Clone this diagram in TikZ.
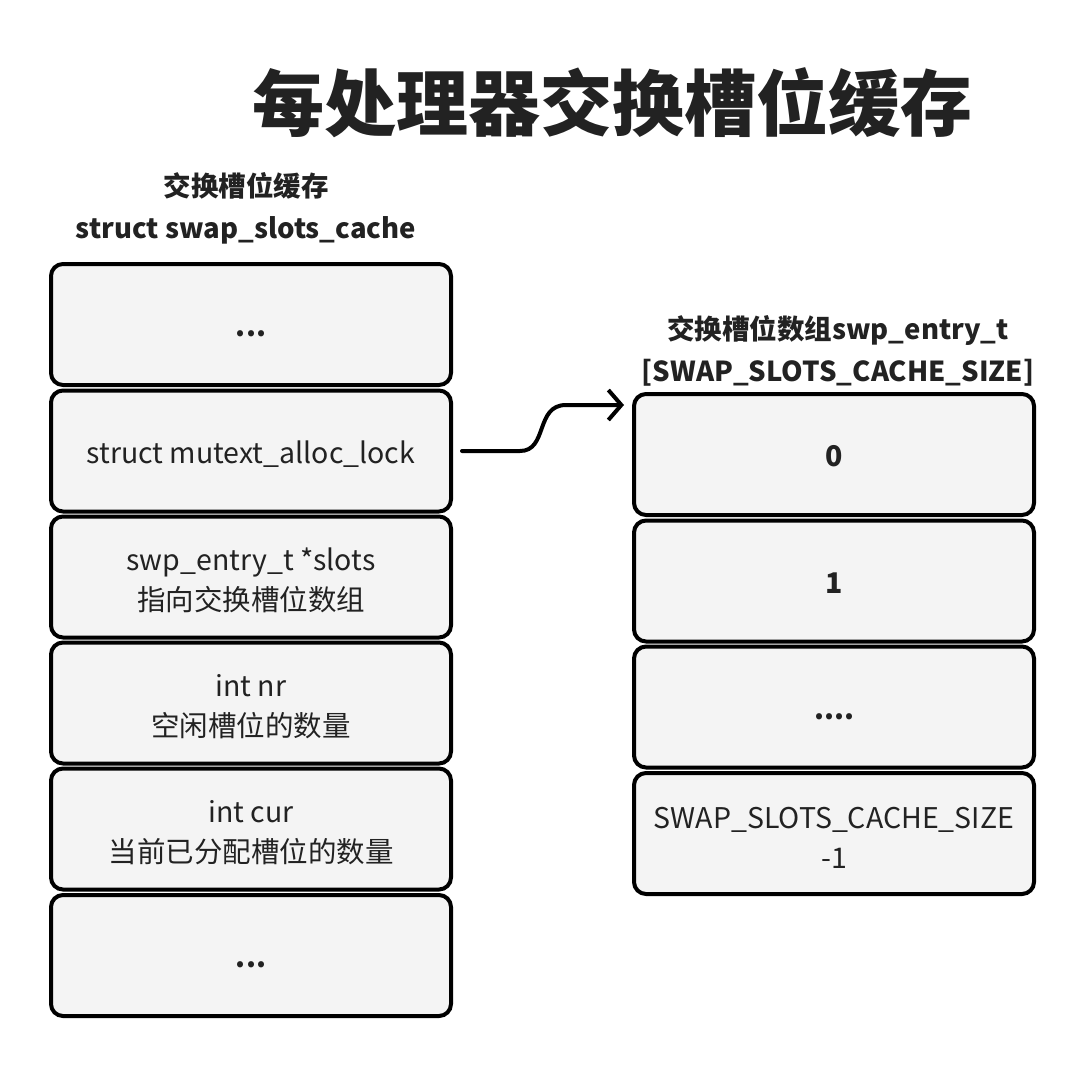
\documentclass[tikz,border=0pt]{standalone}
\usepackage{fontspec}
\setmainfont{Noto Sans CJK SC}
\usepackage{tikz}
\usetikzlibrary{positioning,arrows.meta}
\definecolor{ink}{HTML}{222222}
\definecolor{cellbg}{HTML}{F4F4F4}
\newcommand{\onestrut}{\rule[-4pt]{0pt}{32pt}}
\newcommand{\topstrut}{\rule{0pt}{30pt}}

\begin{document}
\begin{tikzpicture}[x=1pt, y=-1pt,
  font=\fontsize{28.5}{40}\selectfont, text=ink,
  cell/.style={draw=black, line width=4pt, rounded corners=12pt, fill=cellbg,
    align=center, minimum width=400pt, minimum height=121pt, inner sep=0pt},
  head/.style={align=center, font=\fontsize{27.5}{42}\selectfont\bfseries},
  ptr/.style={draw=black, line width=4pt, line cap=round,
    -{Straight Barb[length=13pt, width=30pt, line width=4pt]}}]
\useasboundingbox[fill=white] (0,0) rectangle (1086,1070);
\node[font=\fontsize{72}{80}\selectfont\bfseries] (title) at (612,103) {每处理器交换槽位缓存};
% left: struct swap_slots_cache
\node[head] (lhead) at (246,208) {交换槽位缓存\\struct swap\_slots\_cache};
\node[cell] (dots1) at (251,324.5) {\onestrut\textbf{...}};
\node[cell] (lock)  at (251,451)   {\onestrut struct mutext\_alloc\_lock};
\node[cell] (slots) at (251,577)   {\topstrut swp\_entry\_t *slots\\指向交换槽位数组};
\node[cell] (nr)    at (251,703)   {\topstrut int nr\\空闲槽位的数量};
\node[cell] (cur)   at (251,829)   {\topstrut int cur\\当前已分配槽位的数量};
\node[cell] (dots2) at (251,955.5) {\onestrut\textbf{...}};
% right: swp_entry_t array
\node[head] (rhead) at (838,351) {交换槽位数组swp\_entry\_t\\{[SWAP\_SLOTS\_CACHE\_SIZE]}};
\node[cell] (e0)    at (834,454.5) {\onestrut\textbf{0}};
\node[cell] (e1)    at (834,581)   {\onestrut\textbf{1}};
\node[cell] (edots) at (834,707)   {\onestrut\textbf{....}};
\node[cell] (elast) at (834,833.5) {\topstrut SWAP\_SLOTS\_CACHE\_SIZE\\-1};
\coordinate (tip) at (624,405);
\draw[ptr] ([xshift=9pt]lock.east) -- (520,451)
  .. controls (548,451) and (535,405) .. (566,405) -- (tip);
\end{tikzpicture}
\end{document}
